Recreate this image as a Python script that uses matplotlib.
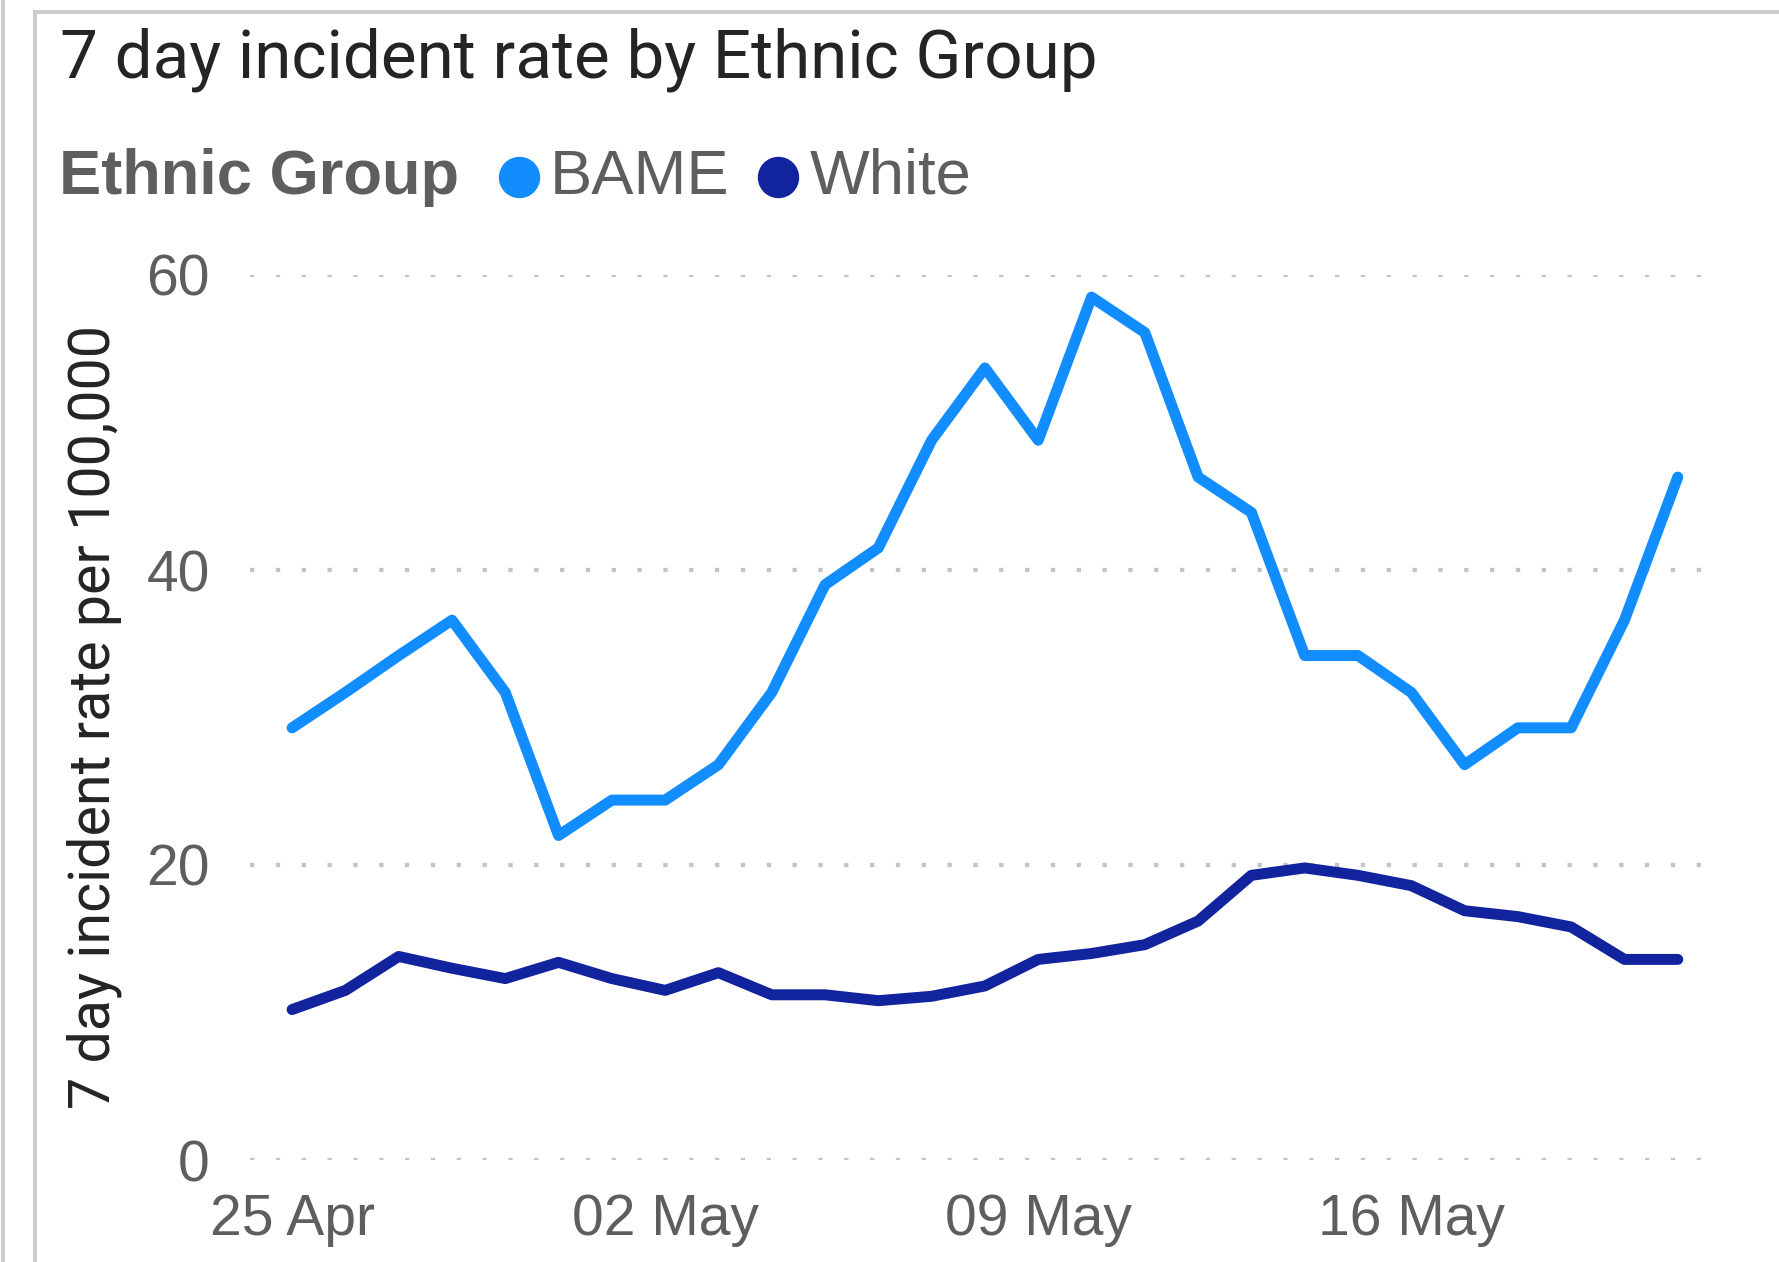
"""
7 day incident rate by Ethnic Group - line chart recreation
"""
import matplotlib
matplotlib.use('Agg')
import matplotlib.pyplot as plt
import matplotlib.dates as mdates
from matplotlib.lines import Line2D
import pandas as pd

# Data
dates = pd.date_range('2021-04-25', '2021-05-21', freq='D')
bame = [29.3, 31.7, 34.2, 36.6, 31.7, 22.0, 24.4, 24.4, 26.8, 31.7, 39.0, 41.5,
        48.8, 53.7, 48.8, 58.5, 56.1, 46.3, 43.9, 34.2, 34.2, 31.7, 26.8, 29.3,
        29.3, 36.6, 46.3]
white = [10.2, 11.5, 13.8, 13.0, 12.3, 13.4, 12.3, 11.5, 12.7, 11.2, 11.2, 10.8,
         11.1, 11.8, 13.6, 14.0, 14.6, 16.2, 19.3, 19.8, 19.3, 18.6, 16.9, 16.5,
         15.8, 13.6, 13.6]
series_names = ['BAME', 'White']
series_colors = ['#118DFF', '#12239E']
y_ticks = [0, 20, 40, 60]
x_tick_dates = pd.to_datetime(['2021-04-25', '2021-05-02', '2021-05-09', '2021-05-16'])

W, H = 1779, 1262
DPI = 100


def fx(x):
    return x / W


def fy(y):
    return 1 - y / H


fig = plt.figure(figsize=(W / DPI, H / DPI), dpi=DPI)
fig.patch.set_facecolor('white')

# Rahmen (Power BI Kachel)
frame = '#cccccc'
fig.add_artist(Line2D([fx(3), fx(3)], [0, 1], color=frame, lw=2.9, transform=fig.transFigure))
fig.add_artist(Line2D([fx(35), fx(35)], [0, fy(12)], color=frame, lw=2.9,
                      transform=fig.transFigure, solid_capstyle='projecting'))
fig.add_artist(Line2D([fx(35), 1], [fy(12), fy(12)], color=frame, lw=2.9,
                      transform=fig.transFigure, solid_capstyle='projecting'))

# Titel
fig.text(fx(60), fy(77), '7 day incident rate by Ethnic Group', fontsize=48.5,
         family='Roboto', color='#252423', va='baseline', ha='left')

# Legende
grey = '#605E5C'
fig.text(fx(59), fy(194), 'Ethnic Group', fontsize=45.5, family='Liberation Sans',
         fontweight='bold', color=grey, va='baseline', ha='left')
marker_x = [519, 778]
text_x = [550, 810]
for name, col, mx, tx in zip(series_names, series_colors, marker_x, text_x):
    fig.add_artist(Line2D([fx(mx)], [fy(177)], marker='o', markersize=28.8, color=col,
                          lw=0, transform=fig.transFigure))
    fig.text(fx(tx), fy(194), name, fontsize=45.5, family='Liberation Sans',
             color=grey, va='baseline', ha='left')

# Achse
ax = fig.add_axes([fx(250), fy(1160), fx(1722) - fx(250), fy(275) - fy(1160)])
for vals, col in zip([bame, white], series_colors):
    ax.plot(dates, vals, color=col, lw=7.9, solid_capstyle='round',
            solid_joinstyle='round', clip_on=False)

d0 = mdates.date2num(dates[0])
d1 = mdates.date2num(dates[-1])
ax.set_xlim(d0 - 0.79, d1 + 0.83)
ax.set_ylim(0, 60)

ax.set_yticks(y_ticks)
ax.set_xticks(x_tick_dates)
ax.xaxis.set_major_formatter(mdates.DateFormatter('%d %b'))
ax.tick_params(length=0, labelsize=41, labelcolor=grey)
ax.tick_params(axis='x', pad=24)
ax.tick_params(axis='y', pad=29)
for lab in ax.get_xticklabels() + ax.get_yticklabels():
    lab.set_family('Liberation Sans')

ax.grid(axis='y', color='#c4c4c4', linestyle=(0, (1, 5)), linewidth=3.1)
ax.set_axisbelow(True)
for s in ax.spines.values():
    s.set_visible(False)

# Y-Achsentitel
fig.text(fx(94), fy(717), '7 day incident rate per 100,000', rotation=90, fontsize=41.3,
         family='Roboto', color='#252423', va='center', ha='center')

plt.savefig('out.png', dpi=DPI, facecolor='white')
plt.close()
